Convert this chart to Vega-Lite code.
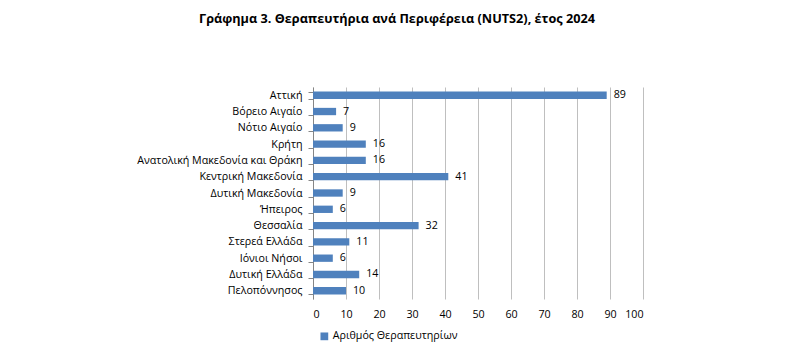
{
  "$schema": "https://vega.github.io/schema/vega-lite/v6.json",
  "width": 330,
  "height": 212,
  "autosize": {"type": "none"},
  "padding": {"left": 313, "top": 87, "right": 151, "bottom": 58},
  "background": "white",
  "title": {
    "text": "Γράφημα 3. Θεραπευτήρια ανά Περιφέρεια (NUTS2), έτος 2024",
    "font": "Open Sans",
    "fontSize": 12.7,
    "fontWeight": "bold",
    "color": "#000000",
    "anchor": "middle",
    "dx": -81,
    "offset": 55
  },
  "data": {
    "values": [
      {"region": "Αττική", "value": 89},
      {"region": "Βόρειο Αιγαίο", "value": 7},
      {"region": "Νότιο Αιγαίο", "value": 9},
      {"region": "Κρήτη", "value": 16},
      {"region": "Ανατολική Μακεδονία και Θράκη", "value": 16},
      {"region": "Κεντρική Μακεδονία", "value": 41},
      {"region": "Δυτική Μακεδονία", "value": 9},
      {"region": "Ήπειρος", "value": 6},
      {"region": "Θεσσαλία", "value": 32},
      {"region": "Στερεά Ελλάδα", "value": 11},
      {"region": "Ιόνιοι Νήσοι", "value": 6},
      {"region": "Δυτική Ελλάδα", "value": 14},
      {"region": "Πελοπόννησος", "value": 10}
    ]
  },
  "encoding": {
    "y": {
      "field": "region",
      "type": "nominal",
      "sort": null,
      "scale": {"paddingInner": 0.55, "paddingOuter": 0.28},
      "axis": {
        "title": null,
        "labelFont": "Open Sans",
        "labelFontSize": 10.7,
        "labelColor": "#000000",
        "labelPadding": 6,
        "domainColor": "#868686",
        "tickColor": "#868686",
        "tickSize": 5,
        "tickBand": "extent",
        "grid": false
      }
    },
    "x": {
      "field": "value",
      "type": "quantitative",
      "scale": {"domain": [0, 100], "nice": false},
      "axis": {
        "title": null,
        "values": [0, 10, 20, 30, 40, 50, 60, 70, 80, 90, 100],
        "labelFont": "Open Sans",
        "labelFontSize": 10.7,
        "labelColor": "#000000",
        "labelPadding": 10,
        "domain": false,
        "ticks": false,
        "grid": true,
        "gridColor": "#bfbfbf",
        "gridWidth": 1
      }
    }
  },
  "layer": [
    {
      "mark": {"type": "bar", "color": "#4F81BD"},
      "encoding": {
        "color": {
          "datum": "Αριθμός Θεραπευτηρίων",
          "type": "nominal",
          "scale": {"range": ["#4F81BD"]},
          "legend": {
            "title": null,
            "orient": "none",
            "legendX": 6,
            "legendY": 244,
            "symbolType": "square",
            "symbolSize": 60,
            "symbolStrokeWidth": 0,
            "labelFont": "Open Sans",
            "labelFontSize": 10.7,
            "labelColor": "#000000",
            "labelOffset": 3
          }
        }
      }
    },
    {
      "mark": {
        "type": "text",
        "align": "left",
        "baseline": "middle",
        "dx": 7,
        "font": "Open Sans",
        "fontSize": 10.7,
        "color": "#000000"
      },
      "encoding": {"text": {"field": "value", "type": "quantitative"}}
    }
  ],
  "config": {"view": {"stroke": null}}
}
